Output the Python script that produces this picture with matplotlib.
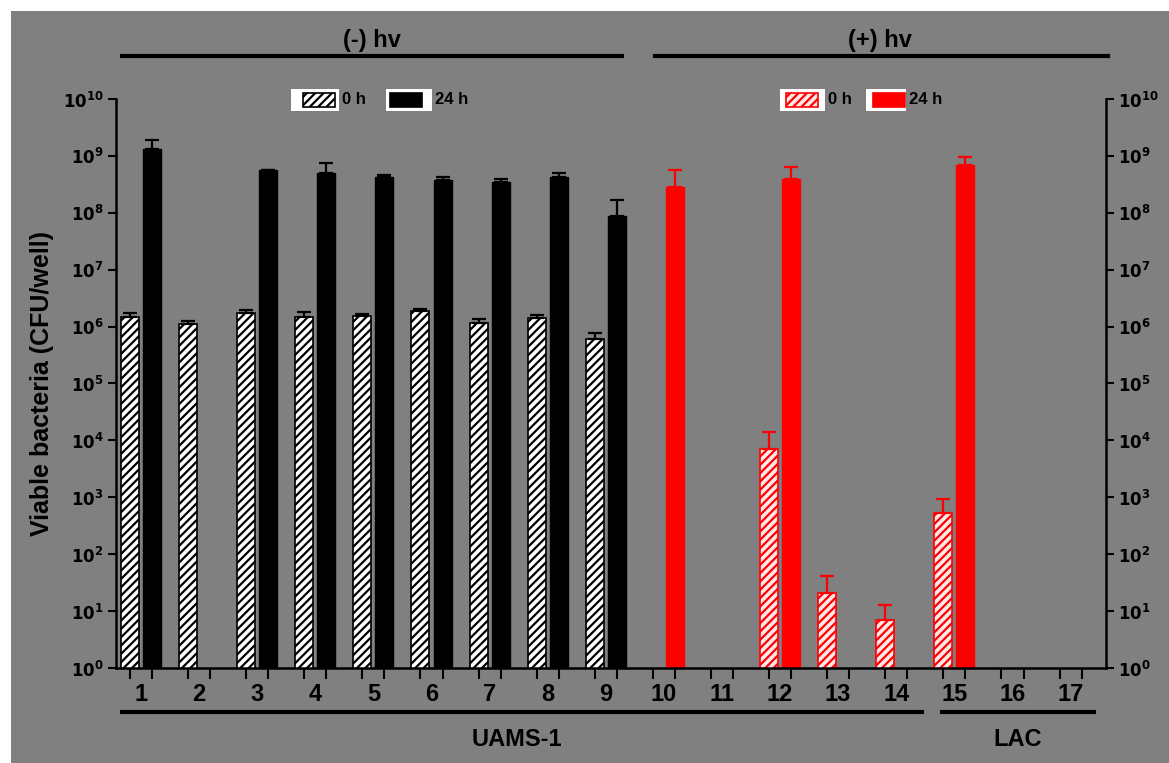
import numpy as np
import matplotlib
matplotlib.use('Agg')
import matplotlib.pyplot as plt
from matplotlib.patches import Rectangle
from matplotlib.lines import Line2D

plt.rcParams['font.family'] = ['Liberation Sans', 'DejaVu Sans']
plt.rcParams['font.weight'] = 'bold'
plt.rcParams['hatch.linewidth'] = 1.6

groups = np.arange(1, 18)
group_labels = [str(g) for g in groups]

# 0 h and 24 h values (CFU/well), NaN = no bar
dark_0h = [1.5e6, 1.1e6, 1.7e6, 1.5e6, 1.55e6, 1.9e6, 1.15e6, 1.4e6, 6.0e5]
dark_0h_err = [0.2e6, 0.15e6, 0.25e6, 0.3e6, 0.1e6, 0.15e6, 0.2e6, 0.2e6, 1.8e5]
dark_24h = [1.3e9, np.nan, 5.6e8, 5.0e8, 4.3e8, 3.7e8, 3.5e8, 4.3e8, 8.8e7]
dark_24h_err = [0.6e9, 0, 0.15e8, 2.5e8, 0.3e8, 0.6e8, 0.5e8, 0.8e8, 8.0e7]

light_0h = [np.nan, np.nan, 7.0e3, 21, 7, 5.3e2, np.nan, np.nan]
light_0h_err = [0, 0, 7.0e3, 20, 6, 4.0e2, 0, 0]
light_24h = [2.8e8, np.nan, 3.9e8, np.nan, np.nan, 6.9e8, np.nan, np.nan]
light_24h_err = [2.8e8, 0, 2.4e8, 0, 0, 2.6e8, 0, 0]

dark_x = groups[:9]
light_x = groups[9:]

grey = '#808080'
off = 0.19
w = 0.31

fig = plt.figure(figsize=(11.69, 7.63), dpi=100, facecolor='white')
fig.patches.append(Rectangle((11 / 1169, 0), 1, 1 - 11 / 763, transform=fig.transFigure,
                             facecolor=grey, edgecolor='none', zorder=-10))
ax = fig.add_axes([116 / 1169, 1 - 668 / 763, (1106 - 116) / 1169, (668 - 99) / 763])
ax.set_facecolor(grey)

ax.bar(dark_x - off, dark_0h, w, color='white', edgecolor='black', hatch='////', linewidth=1.2,
       yerr=[np.zeros(9), dark_0h_err], error_kw=dict(ecolor='black', capsize=5, elinewidth=1.6, capthick=1.6))
ax.bar(dark_x + off, dark_24h, w, color='black', edgecolor='black',
       yerr=[np.zeros(9), dark_24h_err], error_kw=dict(ecolor='black', capsize=5, elinewidth=1.6, capthick=1.6))
ax.bar(light_x - off, light_0h, w, color='#fbe9e9', edgecolor='red', hatch='////', linewidth=1.2,
       yerr=[np.zeros(8), light_0h_err], error_kw=dict(ecolor='red', capsize=5, elinewidth=1.6, capthick=1.6))
ax.bar(light_x + off, light_24h, w, color='red', edgecolor='red',
       yerr=[np.zeros(8), light_24h_err], error_kw=dict(ecolor='red', capsize=5, elinewidth=1.6, capthick=1.6))

ax.set_yscale('log')
ax.set_ylim(1, 1e10)
ax.set_xlim(0.57, 17.61)
ax.minorticks_off()

yticks = [10.0 ** k for k in range(11)]
ylabels = [r'$\mathbf{10^{%d}}$' % k for k in range(11)]
ax.set_yticks(yticks)
ax.set_yticklabels(ylabels, fontsize=12)
ax.tick_params(axis='y', direction='out', length=6, width=1.5, right=True, labelright=True, pad=3)

ticks = np.sort(np.concatenate([groups - off, groups + off]))
ax.set_xticks(ticks)
ax.set_xticklabels([])
ax.set_xticks(groups, minor=True)
ax.set_xticklabels(group_labels, minor=True, fontsize=17, fontweight='bold')
ax.tick_params(axis='x', which='major', direction='out', length=8, width=1.5)
ax.tick_params(axis='x', which='minor', length=0, pad=11)

ax.spines['top'].set_visible(False)
for s in ['left', 'right', 'bottom']:
    ax.spines[s].set_linewidth(1.8)

ax.set_ylabel('Viable bacteria (CFU/well)', fontsize=18, fontweight='bold', labelpad=6)


def fig_line(x0, x1, y):
    fig.add_artist(Line2D([x0 / 1169, x1 / 1169], [1 - y / 763, 1 - y / 763],
                          transform=fig.transFigure, color='black', linewidth=3))


def fig_text(x, y, s, size):
    fig.text(x / 1169, 1 - y / 763, s, fontsize=size, fontweight='bold', ha='center', va='center')


fig_line(122, 622, 56)
fig_line(655, 1108, 56)
fig_text(372, 40, '(-) hv', 17)
fig_text(880, 40, '(+) hv', 17)
fig_line(122, 922, 712)
fig_line(942, 1094, 712)
fig_text(517, 740, 'UAMS-1', 17)
fig_text(1018, 740, 'LAC', 17)


def legend_item(x0, x1, px0, px1, face, edge, hatch, label):
    fig.patches.append(Rectangle((x0 / 1169, 1 - 111 / 763), (x1 - x0) / 1169, 22 / 763,
                                 transform=fig.transFigure, facecolor='white', edgecolor='none'))
    fig.patches.append(Rectangle((px0 / 1169, 1 - 107 / 763), (px1 - px0) / 1169, 14 / 763,
                                 transform=fig.transFigure, facecolor=face, edgecolor=edge,
                                 hatch=hatch, linewidth=1.2))
    fig.text((x1 + 3) / 1169, 1 - 100 / 763, label, fontsize=12, fontweight='bold', va='center')


legend_item(291, 339, 303, 335, 'white', 'black', '////', '0 h')
legend_item(386, 432, 390, 422, 'black', 'black', None, '24 h')
legend_item(780, 825, 786, 818, '#fbe9e9', 'red', '////', '0 h')
legend_item(866, 906, 873, 905, 'red', 'red', None, '24 h')

plt.savefig('out.png', dpi=100, facecolor='white')
